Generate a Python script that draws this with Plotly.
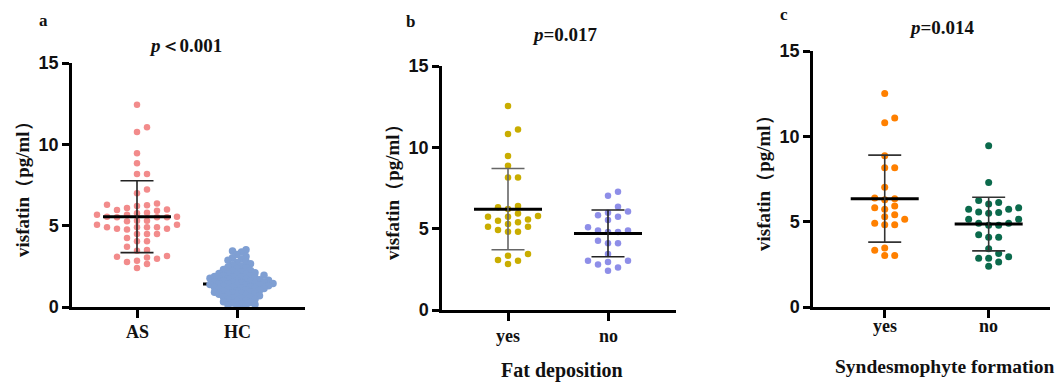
import plotly.graph_objects as go

# ---------------- data ----------------
cats_a = ["AS", "HC"]
cats_b = ["yes", "no"]
cats_c = ["yes", "no"]

as_vals = [12.44, 11.05, 10.76, 9.45, 8.83, 8.17, 8.17, 7.23, 6.99,
           6.29, 6.37, 6.25, 6.21, 5.80, 6.00, 6.08, 5.92, 5.96, 5.76,
           5.55, 5.67, 5.55, 5.67, 5.51, 5.51, 5.51, 5.27, 5.30, 5.30,
           4.90, 4.81, 5.06, 4.77, 5.06, 4.81, 4.90, 4.90, 4.90,
           4.49, 4.49, 4.49, 4.24, 4.04, 4.04, 3.71, 3.46, 3.50,
           3.05, 3.09, 2.97, 3.13, 2.85, 2.77, 2.64, 2.40]
hc_vals = [3.52, 3.45, 3.38, 3.22, 3.10, 3.02, 2.95, 2.88, 2.80, 2.74,
           2.66, 2.60, 2.52, 2.46, 2.40, 2.35, 2.30, 2.24, 2.20, 2.15,
           2.10, 2.06, 2.05, 2.02, 1.98, 1.95, 1.92, 1.91, 1.88, 1.85,
           1.84, 1.80, 1.77, 1.74, 1.72, 1.70, 1.67, 1.64, 1.63, 1.61,
           1.58, 1.55, 1.52, 1.50, 1.49, 1.46, 1.44, 1.42, 1.41, 1.38,
           1.36, 1.35, 1.33, 1.30, 1.28, 1.25, 1.22, 1.20, 1.17, 1.14,
           1.12, 1.09, 1.06, 1.04, 1.01, 0.98, 0.95, 0.92, 0.90, 0.87,
           0.84, 0.81, 0.78, 0.75, 0.72, 0.69, 0.66, 0.62, 0.59, 0.55,
           0.52, 0.48, 0.44, 0.40, 0.36, 0.32, 0.28, 0.24, 0.20, 0.16,
           0.12, 0.08, 0.05]
fat_yes = [12.54, 10.82, 11.10, 9.47, 8.87, 8.15, 8.15, 6.31, 6.21, 6.39,
           5.94, 5.78, 5.74, 5.74, 5.57, 5.49, 5.39, 5.29, 5.12, 5.12,
           4.92, 4.81, 4.81, 3.34, 3.44, 3.07, 3.03, 2.83]
fat_no = [7.27, 7.03, 6.35, 6.06, 5.98, 5.74, 5.82, 5.53, 5.08, 4.88,
          4.79, 4.79, 4.88, 4.26, 4.10, 4.10, 3.44, 3.03, 3.03, 2.95,
          2.79, 2.62, 2.42]
syn_yes = [12.51, 11.08, 10.79, 8.86, 8.16, 8.16, 7.02, 6.35, 6.39, 6.28,
           5.73, 5.81, 5.92, 5.41, 5.29, 5.14, 4.82, 4.82, 4.90,
           3.45, 3.33, 3.02, 3.02]
syn_no = [9.45, 7.29, 6.24, 6.04, 6.12, 5.73, 5.81, 5.73, 5.53, 5.49,
          5.57, 5.14, 5.14, 4.90, 4.79, 4.79, 4.90, 4.24, 4.08, 4.08,
          3.41, 3.14, 2.86, 2.94, 2.86, 2.63, 2.39]

# mean and SD as drawn
mean_a = [5.55, 1.41]
sd_a = [2.21, 0.78]
mean_b = [6.20, 4.71]
sd_b = [2.50, 1.44]
mean_c = [6.35, 4.86]
sd_c = [2.55, 1.57]

titles = ["<i>p</i>＜0.001", "<i>p</i>=0.017", "<i>p</i>=0.014"]
letters = ["a", "b", "c"]
xtitles = ["", "Fat deposition", "Syndesmophyte formation"]
ytitle = "visfatin（pg/ml）"

# ---------------- layout helpers ----------------
W, H = 1057, 387
SERIF = "Liberation Serif, Times New Roman, serif"
SANS = "Liberation Sans, Arial, sans-serif"

# pixel boxes of each plot area: (left, right, top, bottom)
boxes = [(72, 305, 63, 307), (442, 676, 66, 310), (813, 1050, 51, 307)]
xranges = [[-0.65, 1.68], [-0.66, 1.68], [-0.69, 1.59]]


def swarm(vals, kx, ky, step_px, min_px):
    order = sorted(range(len(vals)), key=lambda i: vals[i])
    placed = []
    offs = [0.0] * len(vals)
    cands = [0]
    for j in range(1, 60):
        cands += [j, -j]
    for i in order:
        y = vals[i] * ky
        x = 0.0
        for c in cands:
            x = c * step_px
            if all((x - px) ** 2 + (y - py) ** 2 >= min_px ** 2 for px, py in placed):
                break
        placed.append((x, y))
        offs[i] = x / kx
    return offs


fig = go.Figure()

panels = [
    (cats_a, [as_vals, hc_vals], ["#f28b8b", "#7f9fd3"], mean_a, sd_a,
     [(10, 6.5, 6.5), (4.5, 4.8, 7.5)], ["#222222", "#333333"], [True, False]),
    (cats_b, [fat_yes, fat_no], ["#c9ad00", "#8e8ee8"], mean_b, sd_b,
     [(10, 7.0, 6.5), (10, 7.0, 6.5)], ["#666666", "#222222"], [True, True]),
    (cats_c, [syn_yes, syn_no], ["#ff8000", "#0b6a4c"], mean_c, sd_c,
     [(10, 7.0, 7), (10, 7.0, 7)], ["#333333", "#333333"], [True, True]),
]

for p, (cats, groups, colors, means, sds, sw, ecol, ontop) in enumerate(panels):
    L, R, T, B = boxes[p]
    xr = xranges[p]
    kx = (R - L) / (xr[1] - xr[0])
    ky = (B - T) / 15.0
    xa = "x" if p == 0 else f"x{p+1}"
    ya = "y" if p == 0 else f"y{p+1}"
    mean_half = 34 / kx
    cap_half = 16.5 / kx
    for g, vals in enumerate(groups):
        step, mind, msize = sw[g]
        offs = swarm(vals, kx, ky, step, mind)
        m, s = means[g], sds[g]
        err_traces = [
            go.Scatter(x=[g - mean_half, g + mean_half], y=[m, m], mode="lines",
                       line=dict(color="#000000", width=3), xaxis=xa, yaxis=ya,
                       showlegend=False, hoverinfo="skip"),
            go.Scatter(x=[g, g], y=[m - s, m + s], mode="lines",
                       line=dict(color=ecol[g], width=1.6), xaxis=xa, yaxis=ya,
                       showlegend=False, hoverinfo="skip"),
            go.Scatter(x=[g - cap_half, g + cap_half, None, g - cap_half, g + cap_half],
                       y=[m + s, m + s, None, m - s, m - s], mode="lines",
                       line=dict(color=ecol[g], width=1.6), xaxis=xa, yaxis=ya,
                       showlegend=False, hoverinfo="skip"),
        ]
        dots = go.Scatter(x=[g + o for o in offs], y=vals, mode="markers",
                          marker=dict(color=colors[g], size=msize, line=dict(width=0)),
                          xaxis=xa, yaxis=ya, showlegend=False, cliponaxis=False,
                          name=cats[g])
        if ontop[g]:
            fig.add_trace(dots)
            for t in err_traces:
                fig.add_trace(t)
        else:
            for t in err_traces:
                fig.add_trace(t)
            fig.add_trace(dots)

layout = dict(width=W, height=H, margin=dict(l=0, r=0, t=0, b=0, autoexpand=False),
              paper_bgcolor="white", plot_bgcolor="white", showlegend=False)

annotations = []
cat_label_y = [332, 336, 326]
for p in range(3):
    L, R, T, B = boxes[p]
    cats = panels[p][0]
    xk = "xaxis" if p == 0 else f"xaxis{p+1}"
    yk = "yaxis" if p == 0 else f"yaxis{p+1}"
    ya = "y" if p == 0 else f"y{p+1}"
    xa = "x" if p == 0 else f"x{p+1}"
    layout[xk] = dict(domain=[L / W, R / W], range=xranges[p], anchor=ya,
                      tickvals=[0, 1], showticklabels=False, showline=True,
                      linecolor="black", linewidth=2.5, ticks="outside",
                      ticklen=8, tickwidth=2.5, tickcolor="black",
                      showgrid=False, zeroline=False, fixedrange=True)
    layout[yk] = dict(domain=[1 - B / H, 1 - T / H], range=[0, 15], anchor=xa,
                      tickvals=[0, 5, 10, 15], showline=True, linecolor="black",
                      linewidth=2.5, ticks="outside", ticklen=7, tickwidth=2.5,
                      tickcolor="black", showgrid=False, zeroline=False,
                      tickfont=dict(family=SANS, size=18, color="#111111", weight="bold"),
                      fixedrange=True)
    for g, c in enumerate(cats):
        annotations.append(dict(text=c, x=g, xref=xa, y=1 - cat_label_y[p] / H, yref="paper",
                                showarrow=False, xanchor="center", yanchor="middle",
                                font=dict(family=SERIF, size=18, color="#111111", weight="bold")))

# text positions in pixels (centres)
letter_pos = [(43, 21), (410, 22), (784, 15)]
title_pos = [(185, 46), (565, 34), (942, 28)]
ytitle_x = [22, 392, 763]
xtitle_pos = [None, (562, 370), (945, 366)]
xtitle_size = [20, 20, 19.5]

for p in range(3):
    L, R, T, B = boxes[p]
    annotations.append(dict(text=letters[p], x=letter_pos[p][0] / W, y=1 - letter_pos[p][1] / H,
                            xref="paper", yref="paper", showarrow=False,
                            xanchor="center", yanchor="middle",
                            font=dict(family=SERIF, size=17, color="#111111", weight="bold")))
    annotations.append(dict(text=titles[p], x=title_pos[p][0] / W, y=1 - title_pos[p][1] / H,
                            xref="paper", yref="paper", showarrow=False,
                            xanchor="center", yanchor="middle",
                            font=dict(family=SERIF, size=19, color="#111111", weight="bold")))
    annotations.append(dict(text=ytitle, x=ytitle_x[p] / W, y=1 - ((T + B) / 2) / H,
                            xref="paper", yref="paper", showarrow=False, textangle=-90,
                            xanchor="center", yanchor="middle",
                            font=dict(family=SERIF, size=19, color="#111111", weight="bold")))
    if xtitle_pos[p]:
        annotations.append(dict(text=xtitles[p], x=xtitle_pos[p][0] / W, y=1 - xtitle_pos[p][1] / H,
                                xref="paper", yref="paper", showarrow=False,
                                xanchor="center", yanchor="middle",
                                font=dict(family=SERIF, size=xtitle_size[p], color="#111111",
                                          weight="bold")))

layout["annotations"] = annotations
fig.update_layout(**layout)
fig.write_html("out.html", config={"displayModeBar": False},
               post_script="document.body.style.margin='0';document.body.style.overflow='hidden';")
